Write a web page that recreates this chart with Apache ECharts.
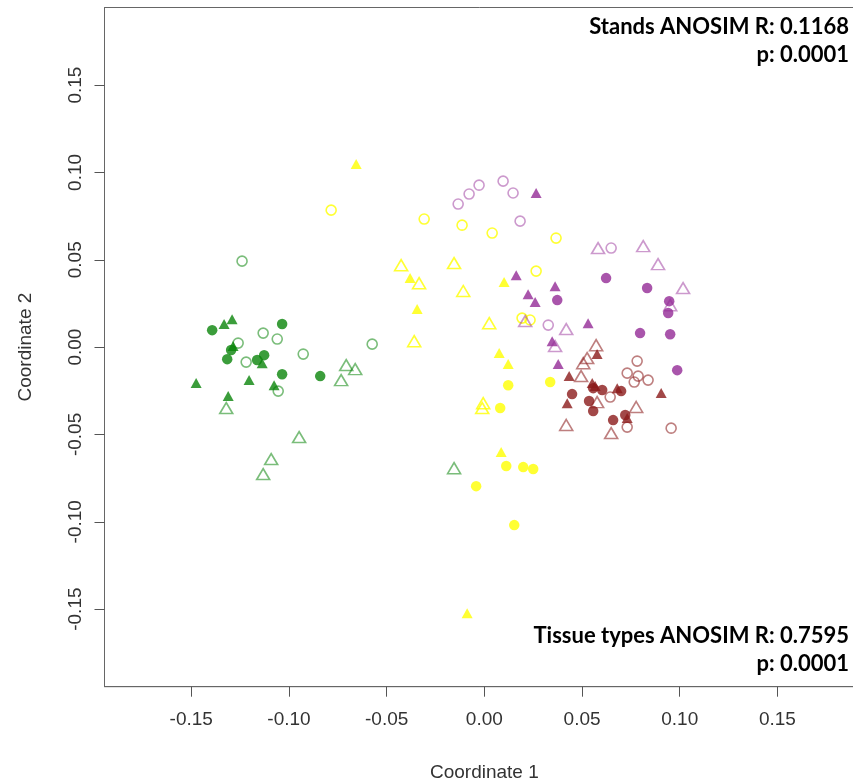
<!DOCTYPE html>
<html>
<head>
<meta charset="utf-8">
<script src="https://cdn.jsdelivr.net/npm/echarts@6/dist/echarts.min.js"></script>
<style>html,body{margin:0;padding:0;background:#fff}#chart{width:853px;height:784px}</style>
</head>
<body>
<div id="chart"></div>
<script>
// ---- data: [Coordinate 1, Coordinate 2] ----
const greenFilledCircle = [[-0.1393,0.0097],[-0.1035,0.0132],[-0.1296,-0.0017],[-0.1316,-0.0069],[-0.1163,-0.0074],[-0.1127,-0.0046],[-0.1035,-0.0155],[-0.0840,-0.0166]];
const greenFilledTriangle = [[-0.1332,0.0132],[-0.1291,0.0160],[-0.1286,0.0006],[-0.1137,-0.0092],[-0.1475,-0.0206],[-0.1204,-0.0189],[-0.1076,-0.0218],[-0.1311,-0.0280]];
const greenOpenCircle = [[-0.1240,0.0492],[-0.1132,0.0080],[-0.1060,0.0046],[-0.1260,0.0023],[-0.1219,-0.0086],[-0.0927,-0.0040],[-0.0574,0.0017],[-0.1055,-0.0252]];
const greenOpenTriangle = [[-0.0707,-0.0103],[-0.0661,-0.0126],[-0.0733,-0.0189],[-0.1321,-0.0349],[-0.0948,-0.0515],[-0.1091,-0.0641],[-0.1132,-0.0727],[-0.0155,-0.0693]];
const yellowFilledCircle = [[0.0122,-0.0218],[0.0337,-0.0200],[0.0081,-0.0349],[0.0112,-0.0681],[0.0199,-0.0687],[0.0250,-0.0698],[-0.0042,-0.0796],[0.0153,-0.1019]];
const yellowFilledTriangle = [[-0.0656,0.1048],[-0.0380,0.0395],[0.0101,0.0372],[-0.0344,0.0218],[0.0076,-0.0034],[0.0122,-0.0097],[0.0086,-0.0601],[-0.0088,-0.1523]];
const yellowOpenCircle = [[-0.0784,0.0784],[-0.0308,0.0733],[-0.0114,0.0698],[0.0040,0.0653],[0.0367,0.0624],[0.0265,0.0435],[0.0193,0.0166],[0.0234,0.0155]];
const yellowOpenTriangle = [[-0.0426,0.0469],[-0.0155,0.0481],[-0.0334,0.0366],[-0.0108,0.0321],[0.0025,0.0137],[-0.0359,0.0034],[-0.0006,-0.0321],[-0.0011,-0.0349]];
const purpleOpenCircle = [[-0.0134,0.0819],[-0.0078,0.0876],[-0.0027,0.0927],[0.0096,0.0950],[0.0147,0.0882],[0.0183,0.0721],[0.0327,0.0126],[0.0649,0.0567]];
const purpleFilledTriangle = [[0.0265,0.0882],[0.0163,0.0412],[0.0362,0.0349],[0.0224,0.0303],[0.0260,0.0258],[0.0531,0.0137],[0.0347,0.0034],[0.0378,-0.0097]];
const purpleFilledCircle = [[0.0373,0.0269],[0.0623,0.0395],[0.0833,0.0338],[0.0946,0.0263],[0.0941,0.0195],[0.0797,0.0080],[0.0951,0.0074],[0.0987,-0.0132]];
const purpleOpenTriangle = [[0.0209,0.0149],[0.0419,0.0103],[0.0362,0.0006],[0.0582,0.0567],[0.0813,0.0578],[0.0889,0.0475],[0.1017,0.0338],[0.0951,0.0240]];
const redFilledCircle = [[0.0449,-0.0269],[0.0557,-0.0235],[0.0603,-0.0246],[0.0700,-0.0252],[0.0536,-0.0309],[0.0557,-0.0366],[0.0721,-0.0389],[0.0659,-0.0418]];
const redFilledTriangle = [[0.0577,-0.0040],[0.0434,-0.0166],[0.0552,-0.0206],[0.0567,-0.0223],[0.0680,-0.0235],[0.0905,-0.0263],[0.0424,-0.0321],[0.0731,-0.0406]];
const redOpenCircle = [[0.0782,-0.0080],[0.0731,-0.0149],[0.0787,-0.0166],[0.0767,-0.0200],[0.0838,-0.0189],[0.0644,-0.0286],[0.0731,-0.0458],[0.0956,-0.0464]];
const redOpenTriangle = [[0.0572,0.0011],[0.0526,-0.0063],[0.0506,-0.0092],[0.0495,-0.0166],[0.0577,-0.0315],[0.0777,-0.0343],[0.0419,-0.0446],[0.0649,-0.0492]];

const tickValues = [-0.15, -0.10, -0.05, 0.00, 0.05, 0.10, 0.15];
const xTitle = 'Coordinate 1';
const yTitle = 'Coordinate 2';
const standsText = ['Stands ANOSIM R: 0.1168', 'p: 0.0001'];
const tissueText = ['Tissue types ANOSIM R: 0.7595', 'p: 0.0001'];

// ---- styles ----
const COL = {
  green:  {fill:'#0A840A', open:'rgba(0,128,0,0.65)'},
  yellow: {fill:'#FFFF00', open:'#FFFF00'},
  purple: {fill:'#942A96', open:'rgba(148,42,150,0.6)'},
  red:    {fill:'#8B1A1A', open:'rgba(139,26,26,0.7)'}
};
const groups = [
  ['green','filled','circle',greenFilledCircle],
  ['green','filled','triangle',greenFilledTriangle],
  ['green','open','circle',greenOpenCircle],
  ['green','open','triangle',greenOpenTriangle],
  ['yellow','filled','circle',yellowFilledCircle],
  ['yellow','filled','triangle',yellowFilledTriangle],
  ['yellow','open','circle',yellowOpenCircle],
  ['yellow','open','triangle',yellowOpenTriangle],
  ['purple','open','circle',purpleOpenCircle],
  ['purple','filled','triangle',purpleFilledTriangle],
  ['purple','filled','circle',purpleFilledCircle],
  ['purple','open','triangle',purpleOpenTriangle],
  ['red','filled','circle',redFilledCircle],
  ['red','filled','triangle',redFilledTriangle],
  ['red','open','circle',redOpenCircle],
  ['red','open','triangle',redOpenTriangle]
];

const series = groups.map(([c, f, s, d]) => {
  const filled = f === 'filled';
  let size;
  if (s === 'circle') size = filled ? 10.5 : 10;
  else size = filled ? [11, 10] : [13, 11];
  return {
    type: 'scatter',
    name: c + ' ' + f + ' ' + s,
    data: d,
    symbol: s,
    symbolSize: size,
    silent: true,
    itemStyle: filled
      ? {color: COL[c].fill, borderWidth: 0}
      : {color: 'rgba(0,0,0,0)', borderColor: COL[c].open, borderWidth: 1.6},
    emphasis: {disabled: true}
  };
});

const axisFont = {fontFamily: 'Liberation Sans', fontSize: 19, color: '#333'};
const fmt = v => v.toFixed(2);
const axisLineStyle = {show: true, onZero: false, lineStyle: {color: '#666', width: 1}};

const annFont = 'bold 22px Lato';
const graphics = [];
[[standsText, 27], [tissueText, 636]].forEach(([lines, y0]) => {
  lines.forEach((t, i) => {
    graphics.push({type: 'text', z: 100, style: {text: t, x: 849, y: y0 + i * 28, align: 'right', verticalAlign: 'middle', font: annFont, fill: '#000'}});
  });
});

const chart = echarts.init(document.getElementById('chart'), null, {renderer: 'canvas'});
chart.setOption({
  animation: false,
  backgroundColor: '#fff',
  grid: {left: 104.5, top: 7.5, width: 759.7, height: 679.2, outerBoundsMode: 'none', containLabel: false,
         show: true, borderColor: '#666', borderWidth: 1, backgroundColor: 'transparent'},
  xAxis: {
    type: 'value', min: -0.1944, max: 0.1944,
    axisLine: axisLineStyle, splitLine: {show: false},
    axisTick: {show: true, customValues: tickValues, length: 10, lineStyle: {color: '#555'}},
    axisLabel: Object.assign({customValues: tickValues, formatter: fmt, margin: 24}, axisFont),
    name: xTitle, nameLocation: 'middle', nameGap: 77,
    nameTextStyle: axisFont
  },
  yAxis: {
    type: 'value', min: -0.1944, max: 0.1944,
    axisLine: axisLineStyle, splitLine: {show: false},
    axisTick: {show: true, customValues: tickValues, length: 10, lineStyle: {color: '#555'}},
    axisLabel: Object.assign({customValues: tickValues, formatter: fmt, rotate: 90, margin: 19}, axisFont),
    name: yTitle, nameLocation: 'middle', nameGap: 69,
    nameTextStyle: axisFont
  },
  graphic: graphics,
  series: series
});
</script>
</body>
</html>
